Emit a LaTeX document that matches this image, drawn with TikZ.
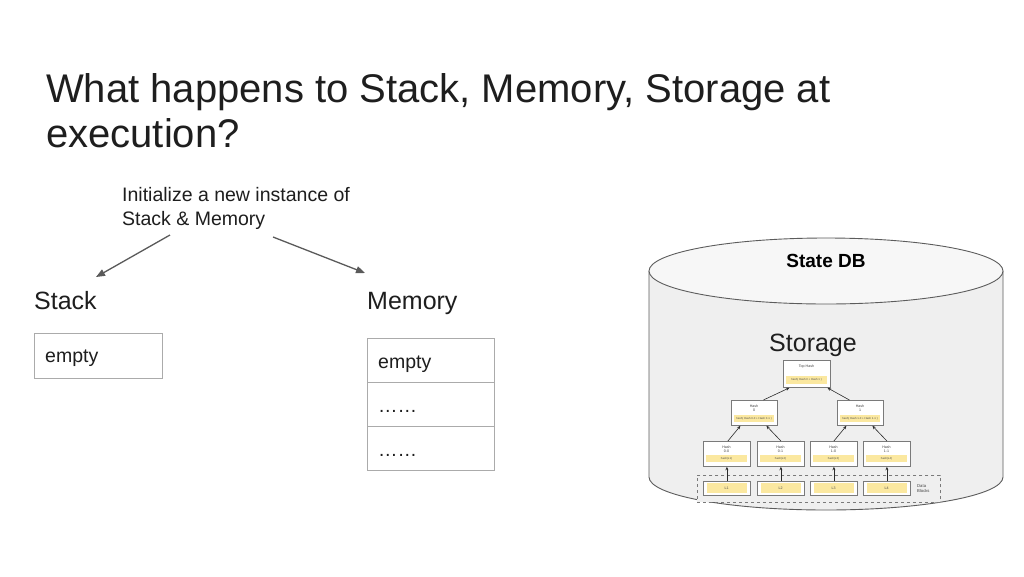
\documentclass[tikz,border=0pt]{standalone}
\usepackage{fontspec}
\setmainfont{Liberation Sans}
\usetikzlibrary{arrows.meta,calc}
\definecolor{txt}{HTML}{1E1E1E}
\definecolor{boxline}{HTML}{ABABAB}
\definecolor{arrowc}{HTML}{5A5A5A}
\definecolor{cylfill}{HTML}{EFEFEF}
\definecolor{cyltop}{HTML}{F7F7F7}
\definecolor{cylline}{HTML}{5C5C5C}
\definecolor{hashline}{HTML}{7A7A7A}
\definecolor{hashyel}{HTML}{FBE8A0}
\definecolor{treearrow}{HTML}{2A2A2A}
\tikzset{
  titletext/.style={font=\fontsize{40}{45}\selectfont, text=txt, inner sep=0pt, anchor=base west},
  notetext/.style={font=\fontsize{19.5}{24}\selectfont, text=txt, inner sep=0pt, anchor=base west},
  labeltext/.style={font=\fontsize{25}{30}\selectfont, text=txt, inner sep=0pt, anchor=base west},
  cellbox/.style={draw=boxline, line width=1.2pt, fill=white, minimum width=127pt, minimum height=44pt, inner sep=0pt},
  celltext/.style={font=\fontsize{19.5}{24}\selectfont, text=txt, inner sep=0pt, anchor=base west},
  bigarrow/.style={draw=arrowc, line width=1.3pt, -{Triangle[length=9pt,width=7pt]}},
  hashbox/.style={draw=hashline, line width=0.8pt, fill=white, inner sep=0pt},
  hashstrip/.style={fill=hashyel, inner sep=0pt, font=\fontsize{2.8}{3}\selectfont, text=black!70},
  hashtitle/.style={inner sep=0pt, font=\fontsize{3.6}{4.2}\selectfont, text=black!75, align=center},
  treearr/.style={draw=treearrow, line width=0.6pt, -{Stealth[length=3.5pt,width=3pt]}},
}
\begin{document}
\begin{tikzpicture}[x=1pt,y=-1pt]
\useasboundingbox (0,0) rectangle (1024,576);
\fill[white] (0,0) rectangle (1024,576);

% title
\node[titletext] (title1) at (46,102) {What happens to Stack, Memory, Storage at};
\node[titletext] (title2) at (46,147) {execution?};

% note
\node[notetext] (note1) at (122,201) {Initialize a new instance of};
\node[notetext] (note2) at (122,225) {Stack \& Memory};

% labels
\node[labeltext] (stacklbl) at (34,309) {Stack};
\node[labeltext] (memlbl) at (367,309) {Memory};

% arrows
\coordinate (a1s) at (170,235);
\coordinate (a1e) at (96,277);
\coordinate (a2s) at (273,237);
\coordinate (a2e) at (365,273);
\draw[bigarrow] (a1s) -- (a1e);
\draw[bigarrow] (a2s) -- (a2e);

% stack box
\node[cellbox, minimum width=128pt, minimum height=45pt, anchor=north west] (stackbox) at (34,333) {};
\node[celltext] (stacktxt) at (45,362) {empty};

% memory boxes
\node[cellbox, anchor=north west] (mem1) at (367,338) {};
\node[cellbox, anchor=north west] (mem2) at (367,382) {};
\node[cellbox, anchor=north west] (mem3) at (367,426) {};
\node[celltext] (mem1t) at (378,368) {empty};
\node[celltext] (mem2t) at (378,412) {……};
\node[celltext] (mem3t) at (378,456) {……};

% cylinder
\path[fill=cylfill, draw=cylline, line width=0.9pt]
  (649,271) -- (649,477) arc[start angle=180, end angle=360, x radius=177pt, y radius=33pt] -- (1003,271);
\path[fill=cyltop, draw=cylline, line width=0.9pt] (826,271) ellipse [x radius=177pt, y radius=33pt];
\node[inner sep=0pt, font=\bfseries\fontsize{19}{22}\selectfont, text=black, anchor=base] (statedb) at (826,267) {State DB};
\node[inner sep=0pt, font=\fontsize{25}{30}\selectfont, text=txt, anchor=base] (storage) at (813,351) {Storage};

% merkle tree
% data blocks dashed
\node[draw=hashline, dashed, line width=0.6pt, fill=cylfill, minimum width=243pt, minimum height=27pt, inner sep=0pt, anchor=north west] (datablk) at (697,475) {};
\node[hashtitle, align=left, anchor=west, font=\fontsize{4.2}{5}\selectfont] (datatxt) at (917,488.5) {Data\\Blocks};

% top
\node[hashbox, minimum width=47pt, minimum height=27pt, anchor=north west] (top) at (783,360) {};
\node[hashtitle] (toptitle) at (806.5,367) {Top Hash};
\node[hashstrip, minimum width=41pt, minimum height=8pt] (topstrip) at (806.5,380) {hash( Hash 0 + Hash 1 )};

% level 1
\node[hashbox, minimum width=46pt, minimum height=25pt, anchor=north west] (h0) at (731,400) {};
\node[hashtitle] (h0t) at (754,408) {Hash\\0};
\node[hashstrip, minimum width=40pt, minimum height=7pt] (h0s) at (754,418.5) {hash( Hash 0-0 + Hash 0-1 )};
\node[hashbox, minimum width=46pt, minimum height=25pt, anchor=north west] (h1) at (837,400) {};
\node[hashtitle] (h1t) at (860,408) {Hash\\1};
\node[hashstrip, minimum width=40pt, minimum height=7pt] (h1s) at (860,418.5) {hash( Hash 1-0 + Hash 1-1 )};

% level 2
\foreach \nm/\xl/\lab/\leaf in {h00/703/0-0/L1, h01/757/0-1/L2, h10/810/1-0/L3, h11/863/1-1/L4}{
  \node[hashbox, minimum width=47pt, minimum height=25pt, anchor=north west] (\nm) at (\xl,441) {};
  \node[hashtitle] (\nm t) at (\xl+23.5,449) {Hash\\\lab};
  \node[hashstrip, minimum width=41pt, minimum height=7pt] (\nm s) at (\xl+23.5,458.5) {hash(\leaf)};
  \node[hashbox, minimum width=47pt, minimum height=14pt, anchor=north west] (\nm L) at (\xl,481) {};
  \node[hashstrip, minimum width=40pt, minimum height=10pt, font=\fontsize{3.6}{4}\selectfont] (\nm Ly) at (\xl+23.5,488) {\leaf};
}

% tree arrows
\draw[treearr] ([xshift=9pt]h0.north) -- ([xshift=-17.5pt]top.south);
\draw[treearr] ([xshift=-11pt]h1.north) -- ([xshift=20.5pt]top.south);
\draw[treearr] ([xshift=1pt]h00.north) -- ([xshift=-14pt]h0.south);
\draw[treearr] ([xshift=0pt]h01.north) -- ([xshift=12pt]h0.south);
\draw[treearr] ([xshift=0pt]h10.north) -- ([xshift=-14pt]h1.south);
\draw[treearr] ([xshift=0pt]h11.north) -- ([xshift=12pt]h1.south);
\foreach \nm in {h00,h01,h10,h11}{
  \draw[treearr] (\nm L.north) -- (\nm.south);
}
\end{tikzpicture}
\end{document}
